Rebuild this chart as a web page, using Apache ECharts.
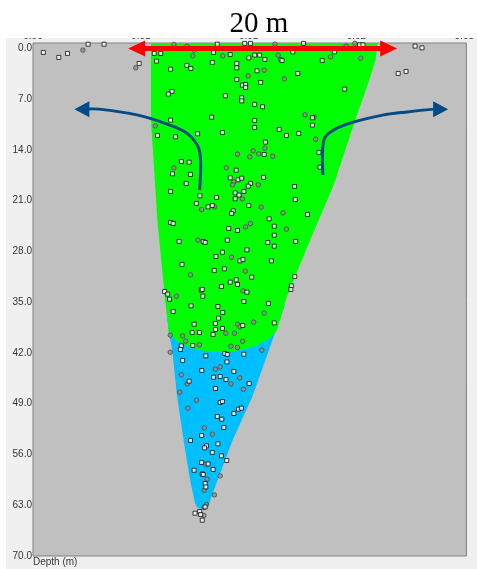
<!DOCTYPE html>
<html>
<head>
    <meta charset="utf-8">
    <title>Depth profile</title>
    <script src="https://cdn.jsdelivr.net/npm/echarts@6/dist/echarts.min.js"></script>
    <style>
        html, body { margin: 0; padding: 0; background: #fff; }
    </style>
</head>
<body>
    <div id="main" style="width: 477px;height:569px;"></div>
    <script type="text/javascript">
        var myChart = echarts.init(document.getElementById('main'));

// axis ticks
var yTicks = [0, 7, 14, 21, 28, 35, 42, 49, 56, 63, 70];
var xTicks = [0, 10, 20, 30, 40];
var xTickLabels = ['0.00', '0.01', '0.01', '0.02', '0.03'];

// zones (x in plot units, y = depth in m)
var greenZone = [[10.94, -0.75], [10.94, 9.89], [11.25, 17.06], [11.55, 23.96], [12.16, 33.34], [12.61, 39.27],
    [13.37, 40.37], [14.73, 41.34], [16.09, 41.75], [17.54, 41.89], [19.27, 41.61], [20.81, 40.92], [21.99, 39.96],
    [22.63, 38.85], [23.53, 34.30], [25.43, 27.41], [27.88, 18.86], [29.97, 9.48], [30.87, 5.75], [31.78, 1.61],
    [31.97, -0.75]];
var blueZone = [[12.37, 36.10], [12.61, 39.27], [12.91, 41.61], [13.37, 48.06], [13.97, 54.03], [14.57, 59.54],
    [15.03, 62.72], [15.23, 63.27], [15.48, 63.48], [15.82, 63.48], [16.09, 63.23], [16.36, 62.72], [16.54, 61.85],
    [18.51, 54.03], [20.33, 48.06], [22.44, 39.27], [23.35, 35.41]];

// samples: white squares
var squarePts = [[17.09, -0.59], [19.63, -0.69], [20.17, -0.69], [25.10, -0.69], [30.3, -0.5], [30.6, -0.5],
    [11.25, 0.69], [11.85, 0.69], [16.75, 0.55], [18.29, 0.83], [20.02, 1.30], [20.56, 0.92], [21.02, 0.92],
    [23.10, 1.66], [24.10, 0.47], [26.82, 1.66], [27.98, 0.47], [11.46, 1.75], [12.76, 2.86], [14.27, 2.34],
    [14.64, 2.76], [16.63, 1.93], [18.90, 2.07], [18.90, 2.68], [20.78, 3.09], [21.51, 1.52], [24.56, 3.45],
    [18.90, 4.28], [21.11, 4.69], [19.42, 5.06], [19.72, 4.97], [19.72, 5.38], [28.91, 5.61], [12.89, 5.93],
    [12.55, 6.30], [17.84, 6.53], [19.36, 6.81], [19.36, 7.23], [20.56, 7.72], [21.29, 8.05], [25.92, 9.57],
    [25.92, 10.58], [16.57, 9.48], [20.56, 9.93], [20.56, 10.90], [22.83, 11.17], [12.76, 9.89], [11.55, 12.00],
    [13.21, 12.19], [15.27, 11.78], [17.57, 11.59], [23.50, 12.00], [24.65, 11.72], [21.56, 12.92], [21.44, 14.62],
    [26.52, 14.34], [13.76, 15.59], [14.48, 15.68], [12.94, 17.30], [14.61, 17.38], [18.84, 16.79], [26.62, 16.37],
    [18.29, 17.85], [19.02, 18.12], [19.36, 17.89], [21.38, 17.79], [14.21, 18.62], [20.17, 18.62], [19.96, 18.99],
    [24.26, 19.03], [15.48, 20.33], [17.02, 20.55], [18.75, 19.92], [19.11, 20.23], [18.75, 20.74], [19.56, 19.72],
    [12.76, 19.72], [24.32, 20.83], [15.15, 21.38], [16.24, 21.85], [16.63, 21.66], [20.02, 21.66], [18.57, 22.40],
    [18.42, 22.76], [25.46, 22.90], [21.90, 23.50], [22.38, 24.51], [12.76, 24.00], [13.00, 24.14], [18.15, 24.83],
    [18.97, 25.10], [22.38, 25.75], [13.55, 26.62], [15.79, 26.62], [15.97, 26.76], [18.02, 26.44], [21.78, 26.76],
    [24.37, 26.62], [22.38, 27.27], [19.84, 27.78], [17.57, 28.10], [16.97, 28.69], [19.20, 29.30], [19.47, 29.10],
    [22.11, 29.30], [13.82, 29.79], [16.81, 30.62], [17.75, 30.40], [20.29, 31.54], [24.28, 31.45], [18.29, 32.23],
    [18.84, 31.92], [18.97, 32.55], [17.48, 32.83], [23.96, 32.74], [23.92, 33.24], [12.21, 33.52], [12.49, 33.89],
    [12.67, 34.58], [15.61, 33.34], [15.70, 33.24], [15.75, 34.17], [19.84, 33.61], [19.56, 34.90], [21.83, 35.17],
    [14.66, 35.50], [17.15, 35.59], [13.00, 36.28], [17.60, 36.41], [17.21, 37.20], [14.94, 38.03], [16.91, 37.93],
    [19.45, 38.21], [22.38, 37.85], [14.76, 39.17], [15.43, 39.17], [16.70, 39.45], [16.93, 38.76], [17.57, 38.62],
    [14.82, 40.97], [13.76, 41.02], [13.67, 41.52], [16.03, 42.40], [17.79, 42.07], [18.02, 42.21], [19.56, 42.17],
    [13.88, 43.03], [17.99, 43.23], [15.66, 44.41], [18.63, 44.55], [14.48, 45.89], [16.75, 45.34], [17.36, 45.24],
    [17.90, 45.66], [20.05, 46.21], [16.93, 46.90], [17.36, 48.83], [17.57, 48.69], [19.06, 49.75], [19.33, 49.61],
    [18.63, 50.34], [17.09, 50.76], [17.51, 51.13], [17.70, 52.28], [15.64, 53.38], [14.61, 54.07], [17.15, 54.54],
    [16.09, 54.81], [15.91, 55.09], [16.63, 55.72], [17.48, 56.19], [17.97, 56.83], [15.64, 57.10], [16.24, 57.30],
    [16.70, 58.07], [14.94, 58.17], [15.70, 58.68], [15.79, 58.76], [15.97, 60.00], [16.03, 60.47], [15.97, 63.23],
    [15.03, 64.10], [15.46, 63.87], [15.55, 64.28], [15.70, 65.06], [0.96, 0.55], [2.39, 1.24], [3.20, 0.69],
    [5.11, -0.59], [6.59, -0.59], [9.85, 2.07], [35.44, -0.32], [36.08, -0.08], [33.87, 3.45], [34.60, 3.17]];

// samples: grey rings
var ringPts = [[13.07, -0.55], [22.44, -0.59], [29.85, -0.7], [14.94, 0.23], [14.27, -0.3], [29.04, -0.32],
    [14.82, 1.02], [17.60, 1.02], [22.74, 0.92], [22.96, 1.52], [27.59, 1.16], [30.40, 1.34], [21.44, 2.99],
    [23.32, 4.19], [19.96, 3.78], [25.23, 9.15], [26.07, 9.48], [11.34, 10.68], [26.22, 12.51], [20.42, 14.12],
    [21.51, 13.75], [20.93, 14.54], [22.23, 14.86], [18.97, 14.58], [20.11, 14.95], [13.07, 16.47], [17.93, 16.47],
    [18.63, 18.40], [18.51, 18.81], [20.90, 18.81], [19.42, 20.74], [15.64, 22.21], [16.84, 21.85], [21.17, 21.89],
    [23.19, 22.68], [23.50, 24.92], [20.17, 24.14], [19.72, 24.61], [15.30, 26.44], [18.42, 28.79], [19.69, 30.72],
    [14.61, 31.23], [13.30, 34.17], [19.47, 33.43], [21.44, 36.51], [18.97, 38.03], [19.20, 38.40], [20.47, 37.75],
    [17.88, 39.27], [18.69, 39.27], [12.73, 39.54], [13.88, 39.64], [14.16, 40.37], [15.43, 40.88], [18.36, 41.06],
    [18.97, 41.24], [19.45, 40.37], [12.73, 41.89], [21.23, 41.61], [16.91, 44.23], [17.36, 43.92], [13.76, 45.02],
    [14.30, 46.26], [19.17, 45.43], [18.36, 46.26], [19.51, 46.99], [13.61, 47.41], [15.15, 48.51], [14.36, 49.61],
    [15.88, 52.33], [16.63, 53.20], [16.03, 57.34], [17.36, 58.95], [16.15, 59.41], [15.88, 60.92], [16.82, 61.57],
    [16.09, 62.90], [15.88, 63.31], [15.85, 64.41], [4.63, 0.23], [9.53, 2.68]];

// annotation arrows
var redArrow = [[8.83, 0], [33.78, 0]];
var leftCurve = [[15.45, 19.54], [15.43, 14.03], [14.27, 11.68], [12.19, 10.30], [9.74, 9.2], [6.11, 8.37], [3.84, 8.37]];
var rightCurve = [[26.89, 17.45], [26.98, 12.62], [27.88, 11.26], [29.70, 10.17], [32.42, 9.2], [34.51, 8.79], [37.23, 8.37], [38.5, 8.37]];

function zoneSeries(pts, color) {
    return {
        type: 'custom', coordinateSystem: 'cartesian2d', silent: true, z: 1,
        data: [pts[0]],
        renderItem: function (params, api) {
            return {
                type: 'polygon',
                shape: { points: pts.map(function (d) { return api.coord(d); }) },
                style: { fill: color }
            };
        }
    };
}

function arrowSeries(pts, color, width, headLen, headW, twoHeads) {
    function head(tip, from) {
        var dx = tip[0] - from[0], dy = tip[1] - from[1];
        var L = Math.sqrt(dx * dx + dy * dy);
        var ux = dx / L, uy = dy / L;
        var bx = tip[0] - ux * headLen, by = tip[1] - uy * headLen;
        return {
            type: 'polygon',
            shape: { points: [tip, [bx - uy * headW / 2, by + ux * headW / 2], [bx + uy * headW / 2, by - ux * headW / 2]] },
            style: { fill: color }
        };
    }
    function pullBack(a, b) { // move a towards b
        var dx = b[0] - a[0], dy = b[1] - a[1];
        var L = Math.sqrt(dx * dx + dy * dy);
        var k = Math.min(headLen * 0.6, L * 0.9) / L;
        return [a[0] + dx * k, a[1] + dy * k];
    }
    return {
        type: 'custom', coordinateSystem: 'cartesian2d', silent: true, z: 5,
        data: [pts[0]],
        renderItem: function (params, api) {
            var p = pts.map(function (d) { return api.coord(d); });
            var n = p.length;
            var line = p.slice();
            line[n - 1] = pullBack(p[n - 1], p[n - 2]);
            if (twoHeads) line[0] = pullBack(p[0], p[1]);
            var kids = [{
                type: 'polyline',
                shape: { points: line, smooth: 0.3 },
                style: { stroke: color, lineWidth: width, fill: null }
            }, head(p[n - 1], p[n - 2])];
            if (twoHeads) kids.push(head(p[0], p[1]));
            return { type: 'group', children: kids };
        }
    };
}

option = {
    animation: false,
    backgroundColor: '#f0f0f0',
    title: {
        text: '20 m',
        left: 254,
        top: 5,
        textAlign: 'center',
        z: 200,
        textStyle: { fontFamily: 'Liberation Serif', fontSize: 29, fontWeight: 'normal', color: '#000' }
    },
    grid: {
        left: 33, right: 1, top: 43, bottom: 13,
        show: true,
        backgroundColor: '#c0c0c0',
        borderColor: '#808080',
        borderWidth: 1
    },
    xAxis: {
        type: 'value',
        position: 'top',
        min: 0,
        max: 40.2,
        axisLine: { show: false },
        axisTick: { show: false },
        splitLine: { show: false },
        axisLabel: {
            customValues: xTicks,
            margin: 2,
            fontSize: 10,
            color: '#333',
            fontFamily: 'Liberation Sans',
            formatter: function (v) { return xTickLabels[xTicks.indexOf(v)]; }
        }
    },
    yAxis: {
        type: 'value',
        inverse: true,
        min: -0.75,
        max: 70,
        axisLine: { show: false },
        axisTick: { show: false },
        splitLine: { show: false },
        axisLabel: {
            customValues: yTicks,
            margin: 1,
            fontSize: 10,
            color: '#333',
            fontFamily: 'Liberation Sans',
            formatter: function (v) { return v.toFixed(1); }
        }
    },
    graphic: [
        { type: 'rect', z: 100, shape: { x: 0, y: 0, width: 477, height: 38 }, style: { fill: '#fff' } },
        { type: 'rect', z: 100, shape: { x: 0, y: 0, width: 6, height: 569 }, style: { fill: '#fff' } },
        {
            type: 'text', z: 100, left: 33, top: 557,
            style: { text: 'Depth (m)', fontSize: 10, fontFamily: 'Liberation Sans', fill: '#333' }
        }
    ],
    series: [
        zoneSeries(blueZone, '#00bfff'),
        zoneSeries(greenZone, '#00ff00'),
        {
            type: 'scatter', silent: true, z: 2,
            symbol: 'circle', symbolSize: 4.5,
            itemStyle: { color: '#8f8f8f', borderColor: '#4a4a4a', borderWidth: 1 },
            data: ringPts
        },
        {
            type: 'scatter', silent: true, z: 3,
            symbol: 'rect', symbolSize: 4,
            itemStyle: { color: '#fff', borderColor: '#111', borderWidth: 1 },
            data: squarePts
        },
        arrowSeries(redArrow, '#ff0000', 5, 17, 16, true),
        arrowSeries(leftCurve, '#004a85', 3, 15, 16, false),
        arrowSeries(rightCurve, '#004a85', 3, 15, 16, false)
    ]
};

    myChart.setOption(option);
    </script>
</body>
</html>
